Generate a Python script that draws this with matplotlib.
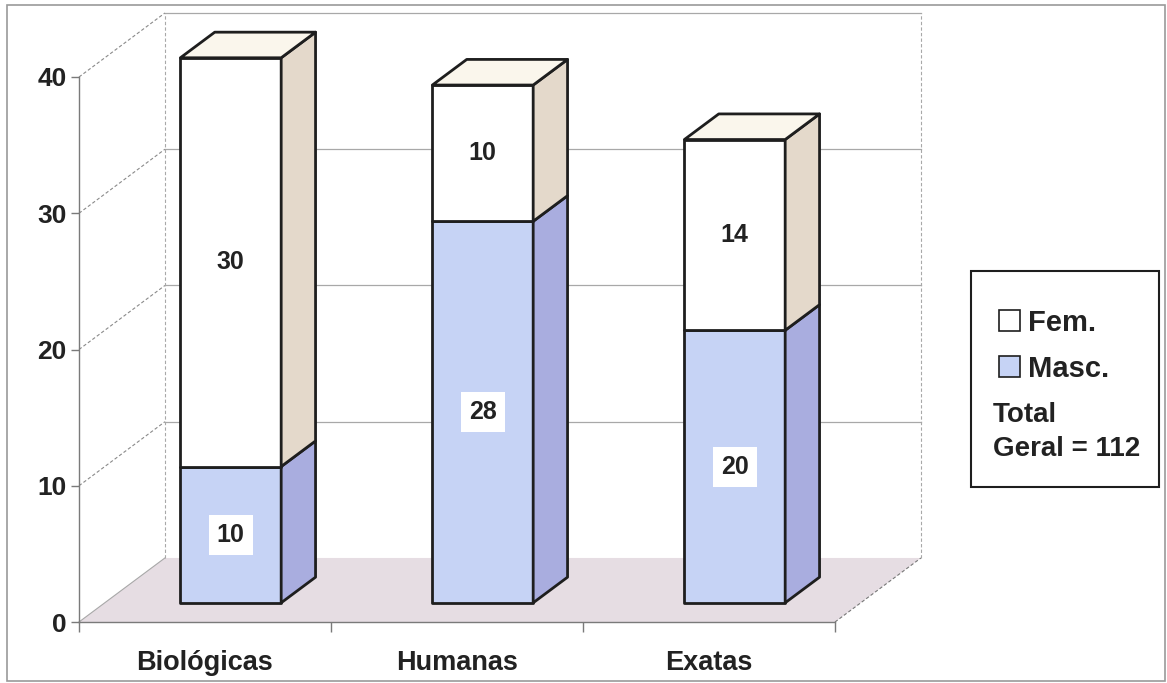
import matplotlib.pyplot as plt
from matplotlib.patches import Polygon, Rectangle, Patch

plt.rcParams['font.family'] = ['Liberation Sans', 'DejaVu Sans']
plt.rcParams['font.weight'] = 'bold'

categories = ['Biológicas', 'Humanas', 'Exatas']
masc = [10, 28, 20]
fem = [30, 10, 14]
total_geral = sum(masc) + sum(fem)
yticks = [0, 10, 20, 30, 40]

# oblique "3D" offset of the back wall, in data units
DX, DY = 0.341, 4.7
BAR_W = 0.4
D0, D1 = 0.3, 0.7          # bar depth range (fraction of the full depth)

C_FEM, C_FEM_SIDE, C_FEM_TOP = '#ffffff', '#e4d9cb', '#faf6ec'
C_MASC, C_MASC_SIDE = '#c6d3f5', '#a9addf'
C_FLOOR = '#e6dde3'
C_GRID = '#a8a8a8'
TXT = '#222222'


def proj(x, y, d):
    return (x + d * DX, y + d * DY)


fig = plt.figure(figsize=(11.67, 6.83), dpi=100)
ax = fig.add_axes([79 / 1167, 61 / 683, 756 / 1167, 545 / 683])
ax.set_xlim(0, 3)
ax.set_ylim(0, 40)
ax.patch.set_visible(False)

# outer frame
fig.patches.append(Rectangle((7 / 1167, 2 / 683), 1158 / 1167, 676 / 683,
                             transform=fig.transFigure, fill=False,
                             edgecolor='#9a9a9a', lw=1.2))

ymax = yticks[-1]
# floor
ax.add_patch(Polygon([proj(0, 0, 0), proj(3, 0, 0), proj(3, 0, 1), proj(0, 0, 1)],
                     closed=True, facecolor=C_FLOOR, edgecolor='none', clip_on=False, zorder=1))
ax.plot(*zip(proj(3, 0, 0), proj(3, 0, 1)), color='#777777', lw=0.8, ls=(0, (3, 2)),
        clip_on=False, zorder=1)

# back wall outline and gridlines
ax.plot(*zip(proj(0, 0, 1), proj(0, ymax, 1)), color=C_GRID, lw=0.8, ls=(0, (3, 2)),
        clip_on=False, zorder=1)
ax.plot(*zip(proj(3, 0, 1), proj(3, ymax, 1)), color=C_GRID, lw=0.8, ls=(0, (3, 2)),
        clip_on=False, zorder=1)
for v in yticks[1:]:
    ax.plot(*zip(proj(0, v, 1), proj(3, v, 1)), color=C_GRID, lw=0.9,
            clip_on=False, zorder=1)
    ax.plot(*zip(proj(0, v, 0), proj(0, v, 1)), color='#8a8a8a', lw=0.8,
            ls=(0, (3, 2)), clip_on=False, zorder=1)
ax.plot(*zip(proj(0, 0, 0), proj(0, 0, 1)), color=C_GRID, lw=0.8, clip_on=False, zorder=1)


def box(x0, x1, y0, y1, front, side, top=None):
    faces = [
        ([proj(x0, y0, D0), proj(x1, y0, D0), proj(x1, y1, D0), proj(x0, y1, D0)], front),
        ([proj(x1, y0, D0), proj(x1, y0, D1), proj(x1, y1, D1), proj(x1, y1, D0)], side),
    ]
    if top is not None:
        faces.append(([proj(x0, y1, D0), proj(x1, y1, D0), proj(x1, y1, D1), proj(x0, y1, D1)], top))
    for pts, fc in faces:
        ax.add_patch(Polygon(pts, closed=True, facecolor=fc, edgecolor='#1e1e1e',
                             lw=2.0, joinstyle='round', clip_on=False, zorder=3))


for i, (m, f) in enumerate(zip(masc, fem)):
    x0 = i + 0.5 - BAR_W / 2
    x1 = x0 + BAR_W
    box(x0, x1, 0, m, C_MASC, C_MASC_SIDE)
    box(x0, x1, m, m + f, C_FEM, C_FEM_SIDE, C_FEM_TOP)
    cx = (x0 + x1) / 2 + D0 * DX
    ax.text(cx, m / 2 + D0 * DY, str(m), ha='center', va='center', fontsize=18,
            color=TXT, zorder=5,
            bbox=dict(boxstyle='square,pad=0.32', facecolor='white', edgecolor='none'))
    ax.text(cx, m + f / 2 + D0 * DY, str(f), ha='center', va='center', fontsize=18,
            color=TXT, zorder=5)

# axes
for s in ['top', 'right']:
    ax.spines[s].set_visible(False)
for s in ['left', 'bottom']:
    ax.spines[s].set_color('#7a7a7a')
    ax.spines[s].set_linewidth(1.0)
    ax.spines[s].set_zorder(2)
ax.set_yticks(yticks)
ax.set_yticklabels([str(v) for v in yticks], fontsize=19, color=TXT)
ax.set_xticks([0, 1, 2, 3])
ax.set_xticklabels([])
ax.set_xticks([i + 0.5 for i in range(len(categories))], minor=True)
ax.set_xticklabels(categories, minor=True, fontsize=19.5, color=TXT)
ax.tick_params(axis='y', length=6, width=1, color='#7a7a7a', pad=3)
ax.tick_params(axis='x', which='major', length=7, width=1, color='#7a7a7a')
ax.tick_params(axis='x', which='minor', length=0, pad=20)

# legend
fig.patches.append(Rectangle((971 / 1167, 1 - 487 / 683), 188 / 1167, 216 / 683,
                             transform=fig.transFigure, facecolor='white',
                             edgecolor='#1e1e1e', lw=1.5, zorder=0))
handles = [Patch(facecolor=C_FEM, edgecolor='#1e1e1e', lw=1.2),
           Patch(facecolor=C_MASC, edgecolor='#1e1e1e', lw=1.2)]
fig.legend(handles, ['Fem.', 'Masc.'], loc='upper left',
           bbox_to_anchor=(984 / 1167, 1 - 294 / 683), frameon=False,
           fontsize=21, handlelength=0.75, handleheight=0.75, handletextpad=0.25,
           labelspacing=0.62, borderpad=0, labelcolor=TXT)
fig.text(993 / 1167, 1 - 432 / 683, 'Total\nGeral = %d' % total_geral, fontsize=20,
         color=TXT, ha='left', va='center', linespacing=1.4)

fig.savefig('out.png', dpi=100)
